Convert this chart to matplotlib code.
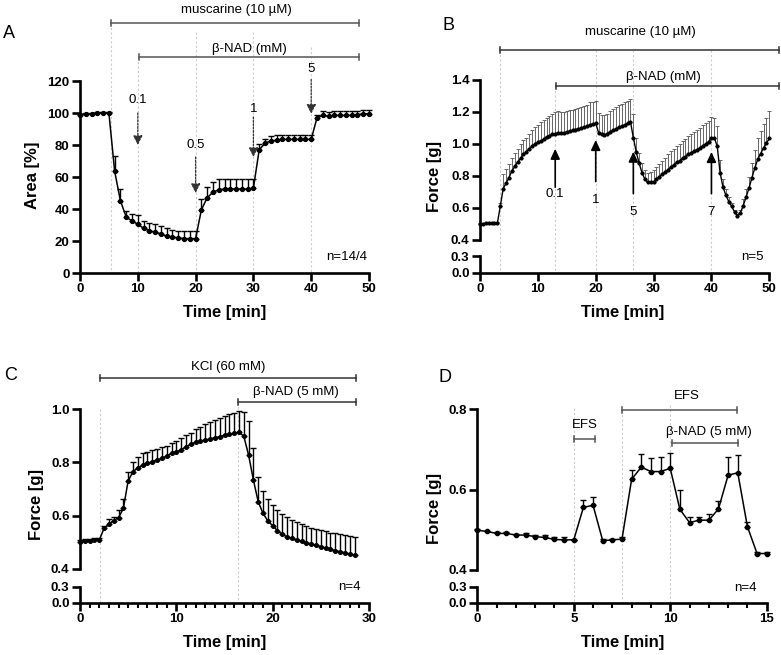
import matplotlib
matplotlib.use('Agg')
import matplotlib.pyplot as plt
import numpy as np
from matplotlib import transforms
from matplotlib.ticker import MultipleLocator, FormatStrFormatter

plt.rcParams['font.family'] = ['Liberation Sans', 'DejaVu Sans']

# ---------------- data ----------------
A_time = list(range(0, 51))
A_mean = [99, 99.5, 99.5, 100, 100, 100,
          63.5, 45, 35, 32.5, 30.5, 28, 26.5, 25.5, 24.5, 23, 22.5, 22, 21.5, 21.5, 21.5,
          39.5, 47, 50.5, 52, 52.5, 52.5, 52.5, 52.5, 52.5, 53,
          77, 81, 82.5, 83, 83.5, 83.5, 83.5, 83.5, 83.5, 83.5,
          97, 98.5, 98, 98.5, 98.5, 98.5, 98.5, 99, 99.5, 99.5]
A_err = [0.5, 0.5, 0.5, 0.5, 0.5, 0.5,
         9.5, 7.5, 4, 4.5, 5.5, 4.5, 5, 5, 5, 5, 4.5, 4.5, 4.5, 4.5, 4.5,
         7, 7, 6.5, 6.5, 6.5, 6.5, 6.5, 6.5, 6.5, 5.5,
         3.5, 3, 3, 3, 3, 3, 3, 3, 3, 3,
         2, 2.5, 2.5, 2.5, 2.5, 2.5, 2.5, 2.5, 2.5, 2.5]

B_time = [i * 0.5 for i in range(101)]
B_mean = [0.50, 0.50, 0.505, 0.505, 0.505, 0.505, 0.505,
          0.61, 0.72, 0.755, 0.79, 0.83, 0.86, 0.885, 0.91, 0.935, 0.95, 0.97, 0.985, 1.0, 1.01,
          1.02, 1.03, 1.045, 1.05, 1.06, 1.065, 1.07, 1.07, 1.07, 1.075, 1.08, 1.085, 1.09, 1.095,
          1.10, 1.105, 1.11, 1.12, 1.125, 1.13,
          1.07, 1.06, 1.055, 1.065, 1.075, 1.085, 1.095, 1.105, 1.11, 1.12, 1.13, 1.14, 1.04,
          0.95, 0.88, 0.82, 0.78, 0.76, 0.76, 0.765,
          0.78, 0.795, 0.81, 0.825, 0.84, 0.855, 0.87, 0.885, 0.895, 0.91, 0.92, 0.935, 0.945,
          0.955, 0.965, 0.975, 0.99, 1.0, 1.015, 1.035,
          1.04, 0.985, 0.82, 0.73, 0.68, 0.64, 0.61, 0.575, 0.55, 0.57, 0.615, 0.67, 0.725,
          0.79, 0.85, 0.905, 0.94, 0.975, 1.005, 1.035]
B_err = [0.005] * 7 + \
        [0.02, 0.09, 0.09, 0.085, 0.085, 0.085, 0.085, 0.09, 0.09, 0.09, 0.095, 0.10, 0.105, 0.11] + \
        [0.115, 0.12, 0.12, 0.125, 0.13, 0.135, 0.135, 0.13, 0.13, 0.13, 0.13, 0.13, 0.13, 0.13,
         0.13, 0.135, 0.135, 0.14, 0.14, 0.14] + \
        [0.125, 0.12, 0.125, 0.125, 0.13, 0.135, 0.135, 0.14, 0.14, 0.14, 0.14, 0.14, 0.15, 0.09,
         0.065, 0.06, 0.06, 0.06, 0.065, 0.07] + \
        [0.075, 0.08, 0.085, 0.09, 0.095, 0.10, 0.10, 0.105, 0.105, 0.11, 0.11, 0.115, 0.12, 0.12,
         0.125, 0.125, 0.13, 0.13, 0.13, 0.135] + \
        [0.12, 0.13, 0.08, 0.05, 0.04, 0.03, 0.02, 0.015, 0.01, 0.02, 0.04, 0.05, 0.07, 0.09,
         0.11, 0.13, 0.14, 0.15, 0.16, 0.17]

C_time = [i * 0.5 for i in range(58)]
C_mean = [0.502, 0.504, 0.505, 0.507, 0.508,
          0.552, 0.568, 0.581, 0.592, 0.627, 0.731,
          0.765, 0.78, 0.789, 0.797, 0.802, 0.809, 0.815, 0.824, 0.834, 0.84,
          0.847, 0.859, 0.868, 0.876, 0.88, 0.884, 0.888, 0.893, 0.897, 0.902, 0.906, 0.909, 0.914,
          0.899, 0.828, 0.734, 0.652, 0.608, 0.58, 0.562, 0.543, 0.529, 0.52, 0.514,
          0.508, 0.503, 0.498, 0.493, 0.488, 0.483, 0.478, 0.473, 0.468, 0.464, 0.46, 0.455, 0.45]
C_err = [0.005, 0.006, 0.008, 0.008, 0.008,
         0.01, 0.018, 0.015, 0.029, 0.034, 0.034,
         0.038, 0.042, 0.045, 0.041, 0.044, 0.041, 0.042, 0.039, 0.039, 0.042,
         0.044, 0.044, 0.044, 0.049, 0.054, 0.06, 0.064, 0.068, 0.072, 0.073, 0.076, 0.078, 0.078,
         0.091, 0.127, 0.121, 0.092, 0.086, 0.081, 0.077, 0.078, 0.077, 0.073, 0.069,
         0.068, 0.065, 0.063, 0.062, 0.06, 0.062, 0.063, 0.063, 0.065, 0.066, 0.067, 0.069, 0.071]

D_time = [i * 0.5 for i in range(31)]
D_mean = [0.499, 0.496, 0.491, 0.491, 0.487, 0.487, 0.483, 0.481, 0.476, 0.475, 0.475,
          0.556, 0.561, 0.473, 0.475, 0.477, 0.626, 0.656, 0.645, 0.645, 0.653,
          0.551, 0.518, 0.524, 0.524, 0.552, 0.636, 0.642, 0.508, 0.441, 0.441]
D_err = [0.002, 0.002, 0.003, 0.004, 0.003, 0.004, 0.004, 0.005, 0.006, 0.007, 0.0,
         0.018, 0.02, 0.003, 0.003, 0.004, 0.023, 0.033, 0.033, 0.037, 0.039,
         0.048, 0.015, 0.008, 0.015, 0.02, 0.046, 0.044, 0.012, 0.004, 0.004]

A_arrows = [(10, 100, 80, "0.1", 108), (20, 72.5, 50, "0.5", 80),
            (30, 97.5, 72.5, "1", 102.5), (40, 121, 99.5, "5", 127.5)]
B_arrows = [(13, 0.73, 0.97, "0.1", 0.69), (20, 0.765, 1.025, "1", 0.65),
            (26.5, 0.69, 0.952, "5", 0.577), (40, 0.69, 0.95, "7", 0.577)]

# ---------------- figure ----------------
W, H = 781, 655
fig = plt.figure(figsize=(W / 100, H / 100), dpi=100)


def rect(l, r, t, b):
    return [l / W, 1 - b / H, (r - l) / W, (b - t) / H]


def fy(py):
    return 1 - py / H


TICK_FS = 9.5
LAB_FS = 12
ANN_FS = 9.5
SPW = 1.9


def style(ax):
    for s in ['top', 'right']:
        ax.spines[s].set_visible(False)
    for s in ['left', 'bottom']:
        ax.spines[s].set_linewidth(SPW)
    ax.tick_params(which='major', width=SPW, length=5.5, labelsize=TICK_FS, pad=2)
    ax.tick_params(which='minor', width=1.5, length=3.5)
    ax.patch.set_alpha(0)


def bold_ticks(ax):
    for lab in ax.get_xticklabels() + ax.get_yticklabels():
        lab.set_fontweight('bold')


def blend(ax):
    return transforms.blended_transform_factory(ax.transData, fig.transFigure)


def vline(ax, x, ytop, ybot):
    ax.plot([x, x], [fy(ytop), fy(ybot)], transform=blend(ax), color='#cccccc',
            lw=0.8, ls=(0, (2, 2)), clip_on=False, zorder=0)


def tbar(ax, x0, x1, ypx, color='#555555'):
    tr = blend(ax)
    ax.plot([x0, x1], [fy(ypx)] * 2, color=color, lw=1.1, transform=tr, clip_on=False)
    for x in (x0, x1):
        ax.plot([x, x], [fy(ypx - 3), fy(ypx + 3)], color=color, lw=1.1,
                transform=tr, clip_on=False)


def ftext(x, y, s, **kw):
    fig.text(x / W, fy(y), s, ha='center', va='center', **kw)


def series(ax, t, m, e, ecol='black', elw=1.0, cap=2.0, ms=2.6, lw=1.1):
    t = np.asarray(t)
    m = np.asarray(m)
    e = np.asarray(e)
    ax.errorbar(t, m, yerr=[np.zeros_like(e), e], fmt='none', ecolor=ecol,
                elinewidth=elw, capsize=cap, capthick=elw, clip_on=False, zorder=2)
    ax.plot(t, m, '-', color='black', lw=lw, marker='o', ms=ms, clip_on=False, zorder=3)


def broken(l, r, t_up, b_up, t_lo, b_lo):
    axu = fig.add_axes(rect(l, r, t_up, b_up))
    axl = fig.add_axes(rect(l, r, t_lo, b_lo))
    style(axu)
    style(axl)
    axu.spines['bottom'].set_visible(False)
    axu.tick_params(axis='x', which='both', bottom=False, labelbottom=False)
    axl.set_ylim(0, 0.3)
    axl.set_yticks([0, 0.3])
    axl.yaxis.set_major_formatter(FormatStrFormatter('%.1f'))
    return axu, axl


# ---------------- Panel A ----------------
axA = fig.add_axes(rect(80, 369, 81, 273))
style(axA)
series(axA, A_time, A_mean, A_err, cap=2.0, ms=2.8)
for (x, yt, yb) in [(5.3, 23.3, 273), (10, 56.7, 273), (20, 32, 273), (30, 32, 273), (40, 47, 273)]:
    vline(axA, x, yt, yb)
tbar(axA, 5.3, 48.2, 23.3)
tbar(axA, 10.2, 48.2, 56.7)
ftext(236, 10, 'muscarine (10 µM)', fontsize=ANN_FS)
ftext(249, 49, 'β-NAD (mM)', fontsize=ANN_FS)
for (x, ytail, ytip, lab, ylab) in A_arrows:
    axA.annotate('', xy=(x, ytip), xytext=(x, ytail), annotation_clip=False,
                 arrowprops=dict(arrowstyle='-|>,head_length=0.55,head_width=0.28',
                                 color='#333333', lw=0.9, ls=(0, (1.5, 1.2)),
                                 shrinkA=0, shrinkB=0))
    axA.text(x, ylab, lab, ha='center', va='center', fontsize=ANN_FS, clip_on=False)
axA.set_xlim(0, 50)
axA.set_ylim(0, 120)
axA.set_xticks(range(0, 51, 10))
axA.set_yticks(range(0, 121, 20))
bold_ticks(axA)
ftext(9, 34, 'A', fontsize=13)
ftext(33, 175, 'Area [%]', fontsize=LAB_FS, fontweight='bold', rotation=90)
ftext(225, 313, 'Time [min]', fontsize=LAB_FS, fontweight='bold')
ftext(347, 257, 'n=14/4', fontsize=ANN_FS)

# ---------------- Panel B ----------------
axBu, axBl = broken(480, 769.3, 80, 240, 256, 272.7)
series(axBu, B_time, B_mean, B_err, ecol='#666666', elw=0.7, cap=1.5, ms=2.0, lw=1.0)
for (x, yt) in [(3.5, 50), (13, 85.7), (20, 50), (26.5, 50), (40, 50)]:
    vline(axBu, x, yt, 272.7)
tbar(axBu, 3.5, 51.6, 50, color='#333333')
tbar(axBu, 13.1, 51.6, 85.7, color='#333333')
ftext(640, 32, 'muscarine (10 µM)', fontsize=ANN_FS)
ftext(663, 77, 'β-NAD (mM)', fontsize=ANN_FS)
for (x, ytail, ytip, lab, ylab) in B_arrows:
    axBu.annotate('', xy=(x, ytip), xytext=(x, ytail), annotation_clip=False,
                  arrowprops=dict(arrowstyle='-|>,head_length=0.6,head_width=0.28',
                                  color='black', lw=1.2, shrinkA=0, shrinkB=0))
    axBu.text(x, ylab, lab, ha='center', va='center', fontsize=ANN_FS, clip_on=False)
for ax in (axBu, axBl):
    ax.set_xlim(0, 50)
axBl.set_xticks(range(0, 51, 10))
axBu.set_ylim(0.4, 1.4)
axBu.set_yticks([0.4, 0.6, 0.8, 1.0, 1.2, 1.4])
axBu.yaxis.set_major_formatter(FormatStrFormatter('%.1f'))
bold_ticks(axBu)
bold_ticks(axBl)
ftext(448, 25, 'B', fontsize=13)
ftext(435, 177, 'Force [g]', fontsize=LAB_FS, fontweight='bold', rotation=90)
ftext(623, 313, 'Time [min]', fontsize=LAB_FS, fontweight='bold')
ftext(752, 257, 'n=5', fontsize=ANN_FS)

# ---------------- Panel C ----------------
axCu, axCl = broken(80, 369, 409.3, 568.7, 586.7, 602.7)
series(axCu, C_time, C_mean, C_err, cap=2.0, ms=2.6)
vline(axCu, 2.1, 409, 602.7)
vline(axCu, 16.4, 402.3, 602.7)
tbar(axCu, 2.1, 28.7, 378.3, color='#333333')
tbar(axCu, 16.4, 28.7, 402.3, color='#333333')
ftext(228, 367, 'KCl (60 mM)', fontsize=ANN_FS)
ftext(296, 391.5, 'β-NAD (5 mM)', fontsize=ANN_FS)
for ax in (axCu, axCl):
    ax.set_xlim(0, 30)
axCl.set_xticks([0, 10, 20, 30])
axCl.xaxis.set_minor_locator(MultipleLocator(1))
axCu.set_ylim(0.4, 1.0)
axCu.set_yticks([0.4, 0.6, 0.8, 1.0])
axCu.yaxis.set_major_formatter(FormatStrFormatter('%.1f'))
bold_ticks(axCu)
bold_ticks(axCl)
ftext(11, 376, 'C', fontsize=13)
ftext(36, 505, 'Force [g]', fontsize=LAB_FS, fontweight='bold', rotation=90)
ftext(225, 642, 'Time [min]', fontsize=LAB_FS, fontweight='bold')
ftext(349, 587, 'n=4', fontsize=ANN_FS)

# ---------------- Panel D ----------------
axDu, axDl = broken(477.3, 766.7, 409.3, 570, 586.7, 602.7)
series(axDu, D_time, D_mean, D_err, cap=2.0, ms=3.0)
vline(axDu, 5, 408, 602.7)
vline(axDu, 7.5, 410, 602.7)
vline(axDu, 10, 405, 602.7)
tbar(axDu, 5.0, 6.1, 439)
tbar(axDu, 7.52, 13.45, 410)
tbar(axDu, 10.08, 13.53, 443.3)
ftext(585, 425, 'EFS', fontsize=ANN_FS)
ftext(687, 396, 'EFS', fontsize=ANN_FS)
ftext(709, 432, 'β-NAD (5 mM)', fontsize=ANN_FS)
for ax in (axDu, axDl):
    ax.set_xlim(0, 15)
axDl.set_xticks([0, 5, 10, 15])
axDl.xaxis.set_minor_locator(MultipleLocator(1))
axDu.set_ylim(0.4, 0.8)
axDu.set_yticks([0.4, 0.6, 0.8])
axDu.yaxis.set_major_formatter(FormatStrFormatter('%.1f'))
bold_ticks(axDu)
bold_ticks(axDl)
ftext(445, 377, 'D', fontsize=13)
ftext(435, 508, 'Force [g]', fontsize=LAB_FS, fontweight='bold', rotation=90)
ftext(623, 642, 'Time [min]', fontsize=LAB_FS, fontweight='bold')
ftext(745, 588, 'n=4', fontsize=ANN_FS)

fig.savefig('out.png', dpi=100)
